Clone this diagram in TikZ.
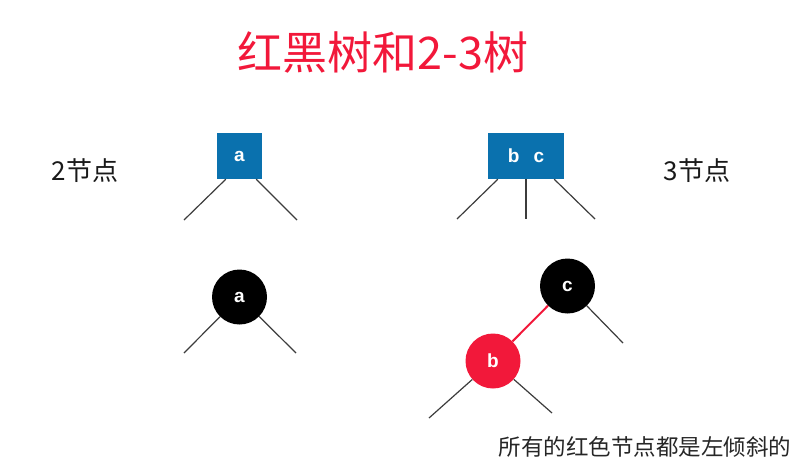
\documentclass[tikz,border=0pt]{standalone}
\usepackage{fontspec}
\setmainfont{Liberation Sans}
\newfontfamily\cjk{Noto Sans CJK SC}
\usepackage{tikz}
\usetikzlibrary{positioning}
\definecolor{rbtblue}{HTML}{0A71AE}
\definecolor{rbtred}{HTML}{F2183A}
\definecolor{rbtline}{HTML}{3C3C3C}
\tikzstyle{keybox} = [rectangle, fill=rbtblue, minimum height=46pt, inner sep=0pt,
    text=white, font=\bfseries\fontsize{19}{19}\selectfont]
\tikzstyle{blacknode} = [circle, fill=black, minimum size=55pt, inner sep=0pt,
    text=white, font=\bfseries\fontsize{19}{19}\selectfont]
\tikzstyle{rednode} = [blacknode, fill=rbtred]
\tikzstyle{edge} = [rbtline, line width=1.2pt]
\tikzstyle{redlink} = [rbtred, line width=2pt]
\tikzstyle{label} = [font=\cjk\fontsize{26}{26}\selectfont, text=black!90]

\begin{document}
\begin{tikzpicture}[x=1pt, y=-1pt]
\useasboundingbox (0,0) rectangle (810,464);

\node[font=\cjk\fontsize{45}{45}\selectfont, text=rbtred] (title) at (383,52) {红黑树和2-3树};

% 2-3 tree
\node[keybox, minimum width=45pt] (boxa) at (239.5,156) {a};
\node[keybox, minimum width=76pt] (boxbc) at (526,156) {b\hspace{0.75em}c};
\node[label] (two) at (85,171) {2节点};
\node[label] (three) at (697,171) {3节点};

\coordinate (al) at (184,220);
\coordinate (ar) at (297,220);
\coordinate (bcl) at (457,219);
\coordinate (bcm) at (526,219);
\coordinate (bcr) at (595,219);
\draw[edge] ([xshift=9pt]boxa.south west) -- (al);
\draw[edge] ([xshift=-6pt]boxa.south east) -- (ar);
\draw[edge] ([xshift=10pt]boxbc.south west) -- (bcl);
\draw[edge] (boxbc.south) -- (bcm);
\draw[edge] ([xshift=-10pt]boxbc.south east) -- (bcr);

% red-black tree
\node[blacknode] (ca) at (239.5,297) {a};
\node[blacknode] (cc) at (567.5,286) {c};
\node[rednode] (cb) at (493,361) {b};

\coordinate (cal) at (184,353);
\coordinate (car) at (296,353);
\coordinate (ccr) at (623,343);
\coordinate (cbl) at (429,418);
\coordinate (cbr) at (552,413);
\draw[edge] (ca) -- (cal);
\draw[edge] (ca) -- (car);
\draw[edge] (cc) -- (ccr);
\draw[edge] (cb) -- (cbl);
\draw[edge] (cb) -- (cbr);
\draw[redlink] (cc) -- (cb);

\node[font=\cjk\fontsize{22.5}{22.5}\selectfont, text=black!85] (note) at (645,447) {所有的红色节点都是左倾斜的};
\end{tikzpicture}
\end{document}
